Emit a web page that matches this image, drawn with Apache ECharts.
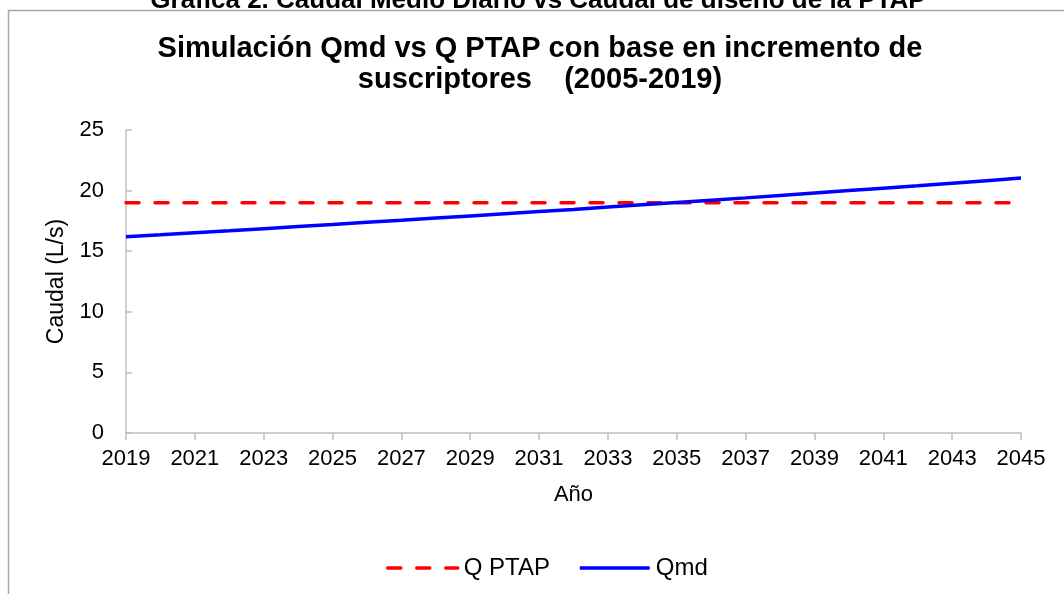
<!DOCTYPE html>
<html><head><meta charset="utf-8">
<script src="https://cdn.jsdelivr.net/npm/echarts@6/dist/echarts.min.js"></script>
<style>html,body{margin:0;padding:0;background:#fff;}#c{width:1064px;height:594px;}</style>
</head><body><div id="c"></div>
<script>
const years = ['2019','2020','2021','2022','2023','2024','2025','2026','2027','2028','2029','2030','2031','2032','2033','2034','2035','2036','2037','2038','2039','2040','2041','2042','2043','2044','2045'];
const qPtap = [19,19,19,19,19,19,19,19,19,19,19,19,19,19,19,19,19,19,19,19,19,19,19,19,19,19,19];
const qmd = [16.20,16.36,16.53,16.69,16.86,17.03,17.20,17.38,17.55,17.73,17.91,18.09,18.27,18.45,18.64,18.83,19.02,19.21,19.40,19.60,19.80,20.00,20.20,20.40,20.61,20.82,21.03];
const yTicks = [0,5,10,15,20,25];
const titleTop = 'Gráfica 2. Caudal Medio Diario vs Caudal de diseño de la PTAP';
const titleMain = 'Simulación Qmd vs Q PTAP con base en incremento de\nsuscriptores    (2005-2019)';

const font = 'Liberation Sans, Arial, sans-serif';
const chart = echarts.init(document.getElementById('c'), null, {renderer:'canvas'});
chart.setOption({
  animation:false,
  backgroundColor:'#fff',
  textStyle:{fontFamily:font},
  graphic:[
    {type:'rect', shape:{x:8.5,y:10.5,width:1200,height:800}, style:{fill:'none',stroke:'#a6a6a6',lineWidth:1.5}, z:-1},
    {type:'text', x:538, y:14, style:{text:titleTop, font:'bold 26px Liberation Sans, Arial', fill:'#000', textAlign:'center', textVerticalAlign:'bottom'}},
    {type:'text', x:540, y:33, style:{text:titleMain, font:'bold 29px Liberation Sans, Arial', lineHeight:31, fill:'#000', textAlign:'center', textVerticalAlign:'top'}}
  ],
  legend:{left:381, top:551, itemWidth:70, itemHeight:4, itemGap:28,
    textStyle:{fontSize:24,color:'#000',fontFamily:font, padding:[0,0,0,1]},
    lineStyle:{width:3.5},
    itemStyle:{opacity:0},
    data:[{name:'Q PTAP'},{name:'Qmd'}]},
  grid:{left:126, right:43, top:130, bottom:161},
  xAxis:{type:'category', data:years, boundaryGap:false,
    name:'Año', nameLocation:'middle', nameGap:51, nameTextStyle:{fontSize:22,color:'#000',fontFamily:font},
    axisLine:{lineStyle:{color:'#bfbfbf',width:1.5}},
    axisTick:{show:true, interval:1, length:7, lineStyle:{color:'#bfbfbf',width:1.5}},
    axisLabel:{interval:1, fontSize:22, color:'#000', margin:15, fontFamily:font},
    splitLine:{show:false}},
  yAxis:{type:'value', min:yTicks[0], max:yTicks[yTicks.length-1], interval:5,
    name:'Caudal (L/s)', nameLocation:'middle', nameGap:56, nameTextStyle:{fontSize:23,color:'#000',fontFamily:font},
    axisLine:{show:true, lineStyle:{color:'#bfbfbf',width:1.5}},
    axisTick:{show:true, inside:true, length:6, lineStyle:{color:'#bfbfbf',width:1.5}},
    axisLabel:{fontSize:22, color:'#000', margin:22, fontFamily:font},
    splitLine:{show:false}},
  series:[
    {name:'Q PTAP', type:'line', data:qPtap, symbol:'none', lineStyle:{color:'#ff0000', width:3.5, type:[13,16], cap:'round'}, itemStyle:{color:'#ff0000'}},
    {name:'Qmd', type:'line', data:qmd, symbol:'none', lineStyle:{color:'#0000ff', width:3.5}, itemStyle:{color:'#0000ff'}}
  ]
});
</script></body></html>
